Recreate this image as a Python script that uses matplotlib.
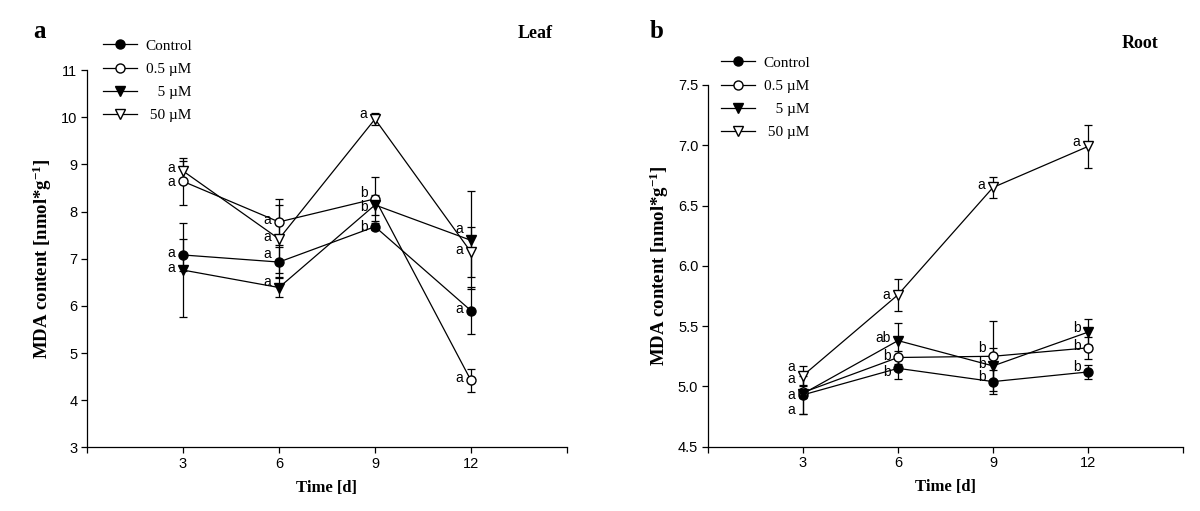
import matplotlib
matplotlib.use("Agg")
import matplotlib.pyplot as plt
from matplotlib.lines import Line2D

# ---------------- data ----------------
days = [3, 6, 9, 12]
series_names = ["Control", "0.5 µM", "   5 µM", " 50 µM"]

leaf_control = [7.08, 6.93, 7.68, 5.90]
leaf_control_err = [0.34, 0.31, 0.08, 0.50]
leaf_05 = [8.64, 7.78, 8.27, 4.42]
leaf_05_err = [0.50, 0.49, 0.46, 0.24]
leaf_5 = [6.76, 6.39, 8.14, 7.39]
leaf_5_err = [1.00, 0.20, 0.22, 1.04]
leaf_50 = [8.86, 7.42, 9.96, 7.14]
leaf_50_err = [0.22, 0.72, 0.13, 0.53]

root_control = [4.93, 5.15, 5.04, 5.12]
root_control_err = [0.16, 0.09, 0.10, 0.06]
root_05 = [4.95, 5.24, 5.25, 5.32]
root_05_err = [0.05, 0.05, 0.29, 0.09]
root_5 = [4.94, 5.38, 5.17, 5.45]
root_5_err = [0.17, 0.15, 0.15, 0.11]
root_50 = [5.09, 5.76, 6.65, 6.99]
root_50_err = [0.08, 0.135, 0.09, 0.18]

leaf_letters = [["a", "a", "b", "a"], ["a", "a", "b", "a"],
                ["a", "a", "b", "a"], ["a", "a", "a", "a"]]
root_letters = [["a", "b", "b", "b"], ["a", "b", "b", "b"],
                ["a", "ab", "b", "b"], ["a", "a", "a", "a"]]

leaf_yticks = [3, 4, 5, 6, 7, 8, 9, 10, 11]
root_yticks = [4.5, 5.0, 5.5, 6.0, 6.5, 7.0, 7.5]
xticks = [0, 3, 6, 9, 12, 15]
xticklabels = ["", "3", "6", "9", "12", ""]

# ---------------- style ----------------
SERIF = "Liberation Serif"
SANS = "Liberation Sans"
plt.rcParams["font.family"] = [SANS, "DejaVu Sans"]
plt.rcParams["mathtext.fontset"] = "custom"
plt.rcParams["mathtext.rm"] = "Liberation Serif:bold"
plt.rcParams["mathtext.it"] = "Liberation Serif:bold"
plt.rcParams["mathtext.bf"] = "Liberation Serif:bold"

styles = [
    dict(marker="o", mfc="black", mec="black", ms=6.5),
    dict(marker="o", mfc="white", mec="black", ms=6.5),
    dict(marker="v", mfc="black", mec="black", ms=7.5),
    dict(marker="v", mfc="white", mec="black", ms=7.5),
]

fig = plt.figure(figsize=(12, 5.11), dpi=100)
ax1 = fig.add_axes([0.0725, 0.1243, 0.40, 0.7387])
ax2 = fig.add_axes([0.59, 0.1258, 0.3958, 0.7079])

# label offset overrides in pixels (up positive): (series index, day index) -> dy
leaf_dy = {(3, 0): 3, (1, 0): -1, (0, 1): 8, (2, 1): 6, (1, 2): 6,
           (2, 2): -2, (0, 2): 0, (2, 3): 11, (3, 2): 5}
root_dy = {(3, 0): 9, (1, 0): 13, (2, 0): -1, (0, 0): -15,
           (1, 2): 8, (0, 2): 5, (2, 3): 4, (0, 3): 5, (3, 3): 4,
           (3, 1): 0, (2, 1): 3, (1, 1): 1, (0, 1): -4}
PX = 72.0 / 100.0  # points per pixel


def draw(ax, values, errs, letters, dys, yticks, ylim, yfmt):
    for i, (vals, er) in enumerate(zip(values, errs)):
        ax.errorbar(days, vals, yerr=er, fmt="none", ecolor="black",
                    elinewidth=0.9, capsize=3.2, capthick=0.9, zorder=2)
        ax.plot(days, vals, color="black", lw=0.9, zorder=3, **styles[i])
        for j, (d, v) in enumerate(zip(days, vals)):
            dy = dys.get((i, j), 2)
            ax.annotate(letters[i][j], (d, v), xytext=(-5.5, dy * PX),
                        textcoords="offset points", ha="right", va="center",
                        fontsize=10, family=SANS, zorder=4)
    ax.set_xlim(0, 15)
    ax.set_ylim(*ylim)
    ax.set_xticks(xticks)
    ax.set_xticklabels(xticklabels)
    ax.set_yticks(yticks)
    ax.set_yticklabels([yfmt.format(t) for t in yticks])
    for s in ["top", "right"]:
        ax.spines[s].set_visible(False)
    for s in ["left", "bottom"]:
        ax.spines[s].set_linewidth(0.9)
    ax.tick_params(direction="out", length=4, width=0.9, labelsize=10.5,
                   pad=3)
    ax.set_xlabel("Time [d]", family=SERIF, fontweight="bold", fontsize=12,
                  labelpad=6)
    ax.set_ylabel("MDA content [nmol*g$^{-1}$]", family=SERIF,
                  fontweight="bold", fontsize=13.5, labelpad=5)


draw(ax1, [leaf_control, leaf_05, leaf_5, leaf_50],
     [leaf_control_err, leaf_05_err, leaf_5_err, leaf_50_err],
     leaf_letters, leaf_dy, leaf_yticks, (3, 11), "{:g}")
draw(ax2, [root_control, root_05, root_5, root_50],
     [root_control_err, root_05_err, root_5_err, root_50_err],
     root_letters, root_dy, root_yticks, (4.5, 7.5), "{:.1f}")

handles = [Line2D([], [], color="black", lw=0.9, **st) for st in styles]
for ax, anchor in [(ax1, (103 / 1200, 1 - 39 / 511)),
                   (ax2, (721 / 1200, 1 - 56 / 511))]:
    fig.legend(handles, series_names, loc="upper left",
               bbox_to_anchor=anchor, bbox_transform=fig.transFigure,
               frameon=False, borderpad=0, borderaxespad=0,
               handlelength=2.2, handletextpad=0.6, labelspacing=0.62,
               numpoints=1, prop=dict(family=SERIF, size=11))

fig.text(39 / 1200, 1 - 32 / 511, "a", family=SERIF, fontweight="bold",
         fontsize=18, ha="center", va="center")
fig.text(657 / 1200, 1 - 32 / 511, "b", family=SERIF, fontweight="bold",
         fontsize=18, ha="center", va="center")
fig.text(535 / 1200, 1 - 33 / 511, "Leaf", family=SERIF, fontweight="bold",
         fontsize=13, ha="center", va="center")
fig.text(1140 / 1200, 1 - 44 / 511, "Root", family=SERIF, fontweight="bold",
         fontsize=13, ha="center", va="center")

fig.savefig("out.png", dpi=100)
